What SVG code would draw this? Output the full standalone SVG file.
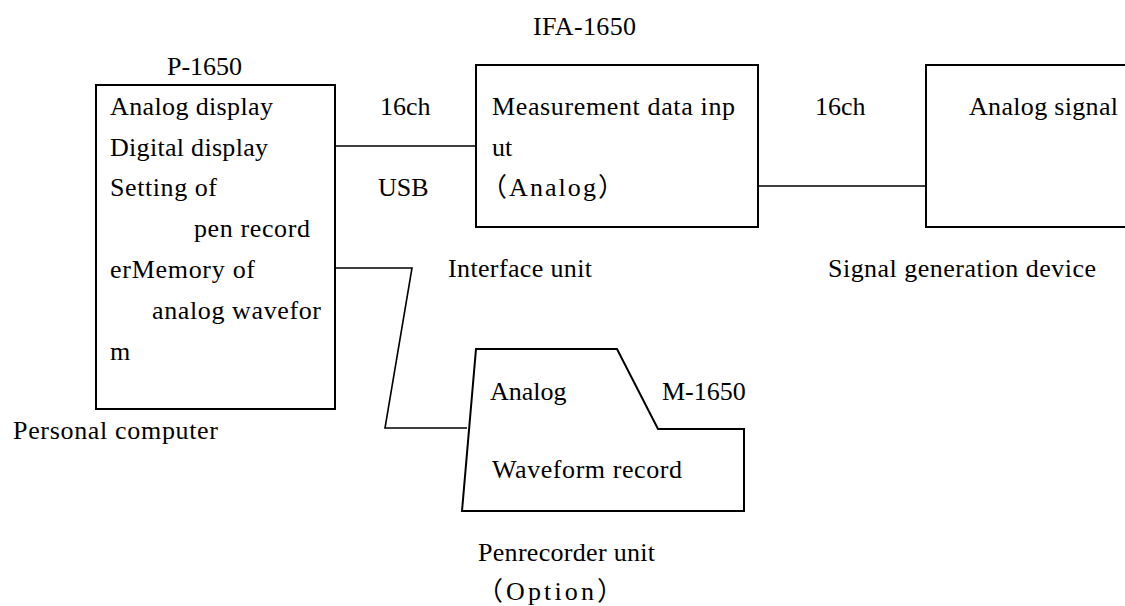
<svg xmlns="http://www.w3.org/2000/svg" width="1125" height="606" viewBox="0 0 1125 606">
<style>
text{font-family:"Liberation Serif","Noto Sans CJK JP",serif;font-size:26px;fill:#000}
.box{fill:none;stroke:#000;stroke-width:2}
.conn{fill:none;stroke:#000;stroke-width:1.6}
</style>
<rect width="1125" height="606" fill="#fff"/>
<g id="pc">
<text x="167" y="75">P-1650</text>
<rect class="box" x="96" y="85" width="239" height="324"/>
<text x="110" y="115" textLength="163" lengthAdjust="spacing">Analog display</text>
<text x="110" y="156" textLength="158" lengthAdjust="spacing">Digital display</text>
<text x="110" y="196" textLength="107" lengthAdjust="spacing">Setting of</text>
<text x="194" y="237" textLength="116" lengthAdjust="spacing">pen record</text>
<text x="110" y="278" textLength="145" lengthAdjust="spacing">erMemory of</text>
<text x="152" y="319" textLength="169" lengthAdjust="spacing">analog wavefor</text>
<text x="110" y="360">m</text>
<text x="13" y="439" textLength="205" lengthAdjust="spacing">Personal computer</text>
</g>
<g id="ifa">
<text x="533" y="35" textLength="103" lengthAdjust="spacing">IFA-1650</text>
<rect class="box" x="476" y="65" width="282" height="162"/>
<text x="492" y="115" textLength="243" lengthAdjust="spacing">Measurement data inp</text>
<text x="492" y="156">ut</text>
<text x="481" y="196" textLength="143" lengthAdjust="spacing">（Analog）</text>
<text x="448" y="277" textLength="144" lengthAdjust="spacing">Interface unit</text>
</g>
<g id="sig">
<path class="box" d="M1130,65 H926 V227 H1130"/>
<text x="969" y="115" textLength="149" lengthAdjust="spacing">Analog signal</text>
<text x="828" y="277" textLength="268" lengthAdjust="spacing">Signal generation device</text>
</g>
<g id="pen">
<polygon class="box" points="476,349 617,349 658,429 744,429 744,511 462,511"/>
<text x="490" y="400">Analog</text>
<text x="662" y="400">M-1650</text>
<text x="492" y="478" textLength="190" lengthAdjust="spacing">Waveform record</text>
<text x="478" y="561" textLength="177" lengthAdjust="spacing">Penrecorder unit</text>
<text x="477" y="600" textLength="146" lengthAdjust="spacing">（Option）</text>
</g>
<g id="connectors">
<path class="conn" d="M335,146 H476"/>
<path class="conn" d="M758,186 H926"/>
<path class="conn" d="M335,268 H412 L385,428 H467"/>
<text x="380" y="115">16ch</text>
<text x="378" y="196">USB</text>
<text x="815" y="115">16ch</text>
</g>
</svg>
